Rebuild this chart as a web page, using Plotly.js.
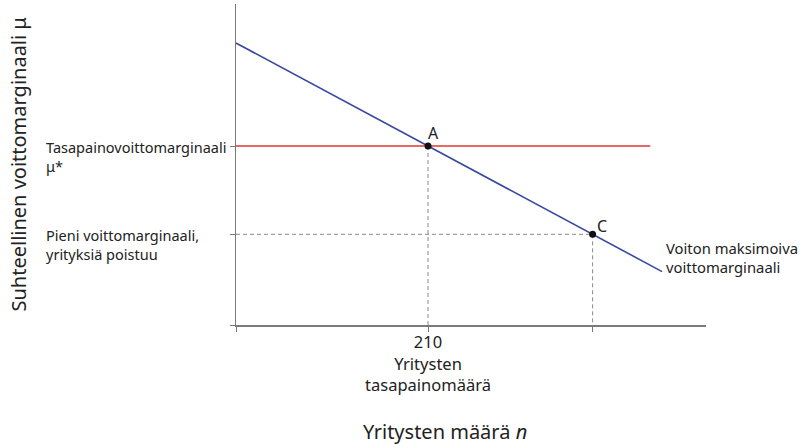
<!DOCTYPE html>
<html>
<head>
<meta charset="utf-8">
<script src="https://cdn.plot.ly/plotly-3.0.1.min.js"></script>
<style>html,body{margin:0;padding:0;background:#fff;}#chart{width:810px;height:445px;}</style>
</head>
<body>
<div id="chart"></div>
<script>
// Data (arbitrary units)
const profitMaxN = [0, 466];          // number of firms n along the profit-maximising markup line
const profitMaxMu = [2.82, 0.534];    // markup μ at those n
const equilibriumN = [0, 453];        // red line extent
const equilibriumMu = [1.79, 1.79];   // μ*
const pointLabels = ['A', 'C'];
const pointN = [210, 390];
const pointMu = [1.79, 0.907];
const xTickVals = [0, 210, 390];
const xTickText = ['', '210<br>Yritysten<br>tasapainomäärä', ''];
const yTickVals = [0, 0.907, 1.79];
const yLabels = ['Pieni voittomarginaali,<br>yrityksiä poistuu', 'Tasapainovoittomarginaali<br>μ*'];
const yLabelVals = [0.907, 1.79];
const curveLabel = 'Voiton maksimoiva<br>voittomarginaali';
const xTitle = 'Yritysten määrä <i>n</i>';
const yTitle = 'Suhteellinen voittomarginaali μ';

const FONT = 'Noto Sans, Open Sans, sans-serif';
const TXT = '#222';
const GRID = '#8a8a8a';
const labelShift = [{x: -2, y: 0}, {x: 2, y: -5}];

const traces = [
  // dashed guide lines
  {x: [pointN[0], pointN[0]], y: [pointMu[0], 0], mode: 'lines', line: {color: GRID, width: 1, dash: '4px,3px'}, hoverinfo: 'skip'},
  {x: [0, pointN[1]], y: [pointMu[1], pointMu[1]], mode: 'lines', line: {color: GRID, width: 1, dash: '4px,3px'}, hoverinfo: 'skip'},
  {x: [pointN[1], pointN[1]], y: [pointMu[1], 0], mode: 'lines', line: {color: GRID, width: 1, dash: '4px,3px'}, hoverinfo: 'skip'},
  // equilibrium markup (red)
  {x: equilibriumN, y: equilibriumMu, mode: 'lines', line: {color: '#e2382e', width: 1.4}, hoverinfo: 'skip'},
  // profit-maximising markup (blue)
  {x: profitMaxN, y: profitMaxMu, mode: 'lines', line: {color: '#3949a0', width: 1.6}, hoverinfo: 'skip'},
  // points
  {x: pointN, y: pointMu, mode: 'markers', marker: {color: '#111', size: 7}, hoverinfo: 'skip'}
];

const annotations = [];
pointLabels.forEach((t, i) => annotations.push({
  x: pointN[i], y: pointMu[i], xref: 'x', yref: 'y', text: t, showarrow: false,
  xanchor: 'left', yanchor: 'bottom', xshift: labelShift[i].x, yshift: labelShift[i].y,
  font: {family: FONT, size: 16, color: TXT}
}));
yLabels.forEach((t, i) => annotations.push({
  x: -0.4085, y: yLabelVals[i], xref: 'paper', yref: 'y', text: t, showarrow: false,
  xanchor: 'left', yanchor: 'middle', align: 'left', yshift: -10,
  font: {family: FONT, size: 14.5, color: TXT}
}));
annotations.push({
  x: profitMaxN[1], y: profitMaxMu[1], xref: 'x', yref: 'y', text: curveLabel, showarrow: false,
  xanchor: 'left', yanchor: 'middle', align: 'left', xshift: 2, yshift: 14,
  font: {family: FONT, size: 14.8, color: TXT}
});
annotations.push({
  x: 0.4447, y: -0.333, xref: 'paper', yref: 'paper', text: xTitle, showarrow: false,
  xanchor: 'center', yanchor: 'middle',
  font: {family: FONT, size: 20, color: TXT}
});
annotations.push({
  x: -0.4638, y: 0.5, xref: 'paper', yref: 'paper', text: yTitle, showarrow: false,
  textangle: -90, xanchor: 'center', yanchor: 'middle',
  font: {family: FONT, size: 20, color: TXT}
});

const layout = {
  width: 810, height: 445,
  margin: {l: 236, r: 104, t: 4, b: 120, pad: 0},
  paper_bgcolor: '#fff', plot_bgcolor: '#fff',
  showlegend: false,
  font: {family: FONT, size: 15, color: TXT},
  xaxis: {
    range: [0, 514], showgrid: false, zeroline: false,
    showline: true, linecolor: '#7a7a7a', linewidth: 1.5,
    tickmode: 'array', tickvals: xTickVals, ticktext: xTickText,
    ticks: 'outside', ticklen: 5, tickcolor: '#7a7a7a', tickwidth: 1,
    ticklabelstandoff: -3,
    tickfont: {family: FONT, size: 16.5, color: TXT}, fixedrange: true
  },
  yaxis: {
    range: [0, 3.21], showgrid: false, zeroline: false,
    showline: true, linecolor: '#7a7a7a', linewidth: 1.5,
    tickmode: 'array', tickvals: yTickVals, ticktext: ['', '', ''],
    ticks: 'outside', ticklen: 5, tickcolor: '#7a7a7a', tickwidth: 1,
    fixedrange: true
  },
  annotations: annotations
};

Plotly.newPlot('chart', traces, layout, {displayModeBar: false, staticPlot: true});
</script>
</body>
</html>
